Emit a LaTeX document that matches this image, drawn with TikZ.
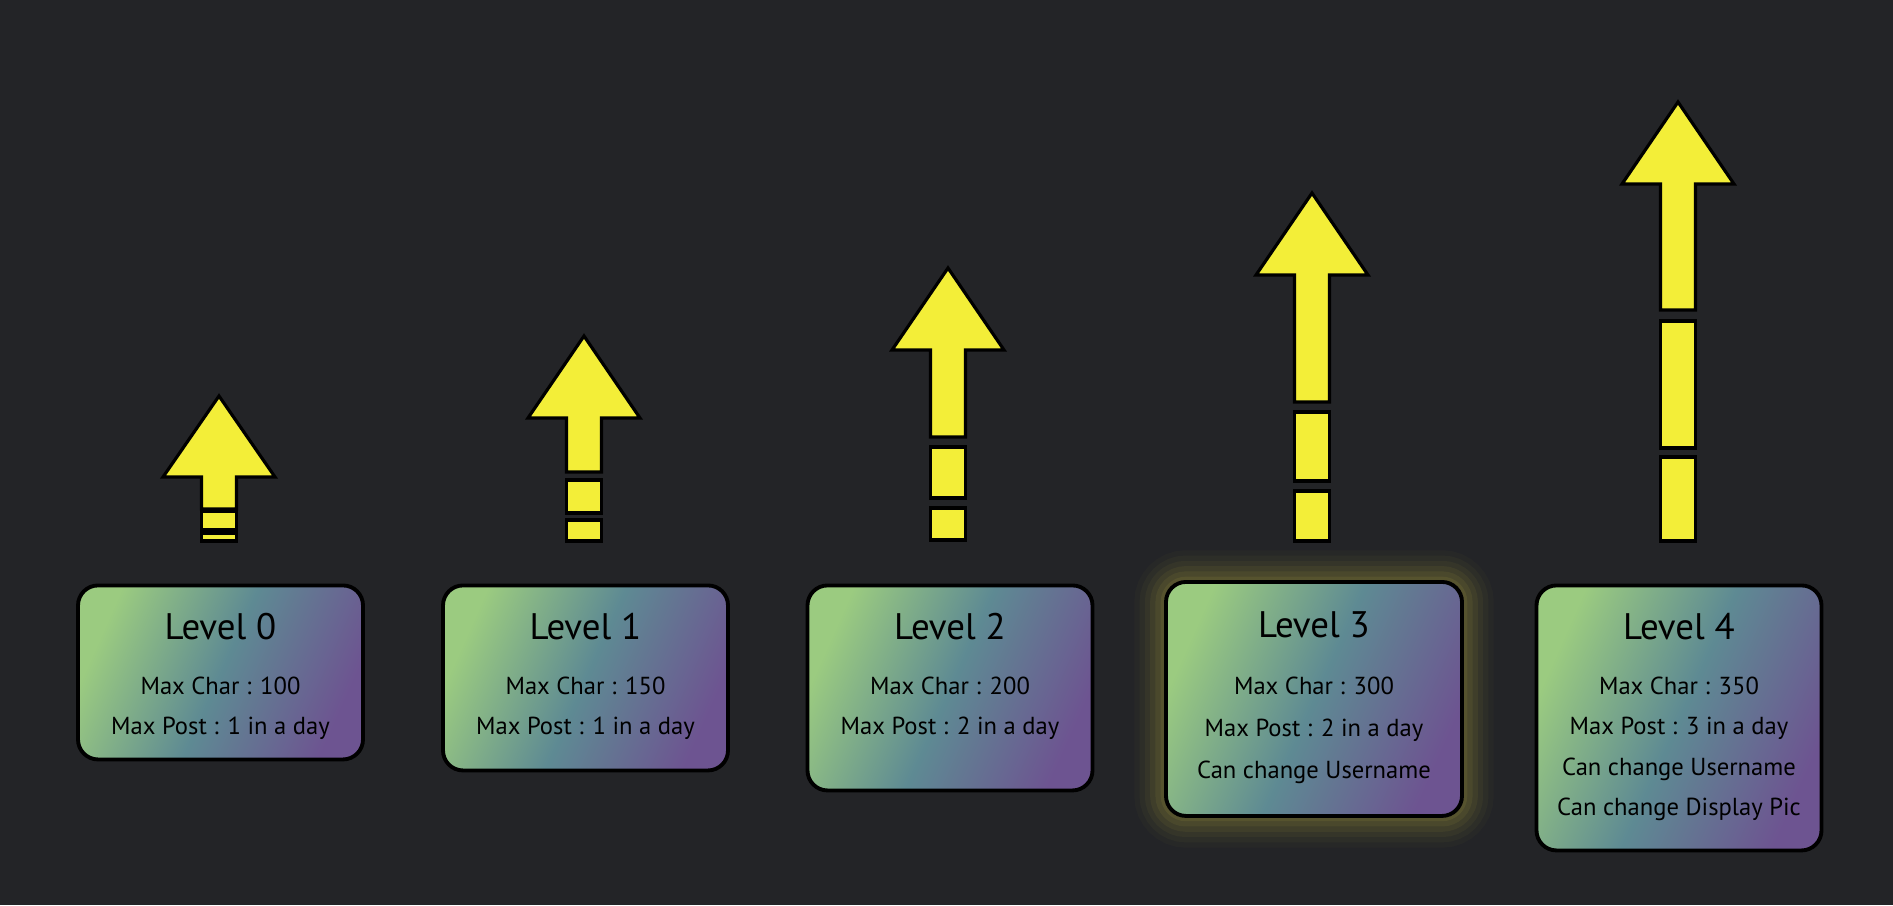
\documentclass[tikz,border=0pt]{standalone}
\usepackage{fontspec}
\setmainfont{PT Sans}
\usepackage{tikz}
\usetikzlibrary{positioning}
\definecolor{DarkBg}{HTML}{232427}
\definecolor{ArrowYellow}{HTML}{F3EE38}
\definecolor{LevelGreen}{HTML}{9BCB80}
\definecolor{LevelTeal}{HTML}{5E8A93}
\definecolor{LevelPurple}{HTML}{6D5491}
\definecolor{GlowYellow}{HTML}{E8D84A}

\begin{document}
\begin{tikzpicture}[
  levelbox/.style={draw=black,line width=1.1pt,rounded corners=0.2cm,minimum width=2.85cm,anchor=north,top color=LevelGreen,bottom color=LevelPurple,middle color=LevelTeal,shading angle=66},
  glowbox/.style={preaction={draw=GlowYellow,line width=18pt,draw opacity=0.025},preaction={draw=GlowYellow,line width=15pt,draw opacity=0.035},preaction={draw=GlowYellow,line width=12pt,draw opacity=0.045},preaction={draw=GlowYellow,line width=9pt,draw opacity=0.06},preaction={draw=GlowYellow,line width=6pt,draw opacity=0.07},preaction={draw=GlowYellow,line width=3pt,draw opacity=0.08}},
  leveltitle/.style={inner sep=0pt,font=\fontsize{10.5}{12}\selectfont},
  levelinfo/.style={inner sep=0pt,align=center,font=\fontsize{7}{11.5}\selectfont},
  levelarrow/.style={draw=black,line width=0.9pt,fill=ArrowYellow}
]
\fill[DarkBg] (0,0) rectangle (18.93,9.05);

% level boxes
\node[levelbox,minimum height=1.74cm] (box0) at (2.205,3.215) {};
\node[leveltitle] (title0) at ([yshift=-0.435cm]box0.north) {Level 0};
\node[levelinfo,below=0.35cm of title0] (info0) {Max Char : 100\\Max Post : 1 in a day};

\node[levelbox,minimum height=1.85cm] (box1) at (5.855,3.215) {};
\node[leveltitle] (title1) at ([yshift=-0.435cm]box1.north) {Level 1};
\node[levelinfo,below=0.35cm of title1] (info1) {Max Char : 150\\Max Post : 1 in a day};

\node[levelbox,minimum height=2.05cm] (box2) at (9.50,3.215) {};
\node[leveltitle] (title2) at ([yshift=-0.435cm]box2.north) {Level 2};
\node[levelinfo,below=0.35cm of title2] (info2) {Max Char : 200\\Max Post : 2 in a day};

\node[levelbox,glowbox,minimum width=2.96cm,minimum height=2.34cm] (box3) at (13.14,3.25) {};
\node[leveltitle] (title3) at ([yshift=-0.45cm]box3.north) {Level 3};
\node[levelinfo,font=\fontsize{7}{12}\selectfont,below=0.37cm of title3] (info3) {Max Char : 300\\Max Post : 2 in a day\\Can change Username};

\node[levelbox,minimum height=2.65cm] (box4) at (16.79,3.215) {};
\node[leveltitle] (title4) at ([yshift=-0.435cm]box4.north) {Level 4};
\node[levelinfo,below=0.35cm of title4] (info4) {Max Char : 350\\Max Post : 3 in a day\\Can change Username\\Can change Display Pic};

% arrows
\draw[levelarrow] (2.19,5.09) -- ++(0.56,-0.81) -- ++(-0.385,0) -- ++(0,-0.32) -- ++(-0.35,0) -- ++(0,0.32) -- ++(-0.385,0) -- cycle;
\draw[levelarrow] (2.015,3.94) rectangle (2.365,3.75);
\draw[levelarrow] (2.015,3.72) rectangle (2.365,3.64);

\draw[levelarrow] (5.84,5.69) -- ++(0.56,-0.82) -- ++(-0.385,0) -- ++(0,-0.54) -- ++(-0.35,0) -- ++(0,0.54) -- ++(-0.385,0) -- cycle;
\draw[levelarrow] (5.665,4.25) rectangle (6.015,3.92);
\draw[levelarrow] (5.665,3.85) rectangle (6.015,3.64);

\draw[levelarrow] (9.48,6.37) -- ++(0.56,-0.82) -- ++(-0.385,0) -- ++(0,-0.87) -- ++(-0.35,0) -- ++(0,0.87) -- ++(-0.385,0) -- cycle;
\draw[levelarrow] (9.305,4.58) rectangle (9.655,4.07);
\draw[levelarrow] (9.305,3.97) rectangle (9.655,3.65);

\draw[levelarrow] (13.12,7.12) -- ++(0.56,-0.82) -- ++(-0.385,0) -- ++(0,-1.27) -- ++(-0.35,0) -- ++(0,1.27) -- ++(-0.385,0) -- cycle;
\draw[levelarrow] (12.945,4.93) rectangle (13.295,4.24);
\draw[levelarrow] (12.945,4.14) rectangle (13.295,3.64);

\draw[levelarrow] (16.78,8.03) -- ++(0.56,-0.82) -- ++(-0.385,0) -- ++(0,-1.26) -- ++(-0.35,0) -- ++(0,1.26) -- ++(-0.385,0) -- cycle;
\draw[levelarrow] (16.605,5.84) rectangle (16.955,4.57);
\draw[levelarrow] (16.605,4.48) rectangle (16.955,3.64);
\end{tikzpicture}
\end{document}
